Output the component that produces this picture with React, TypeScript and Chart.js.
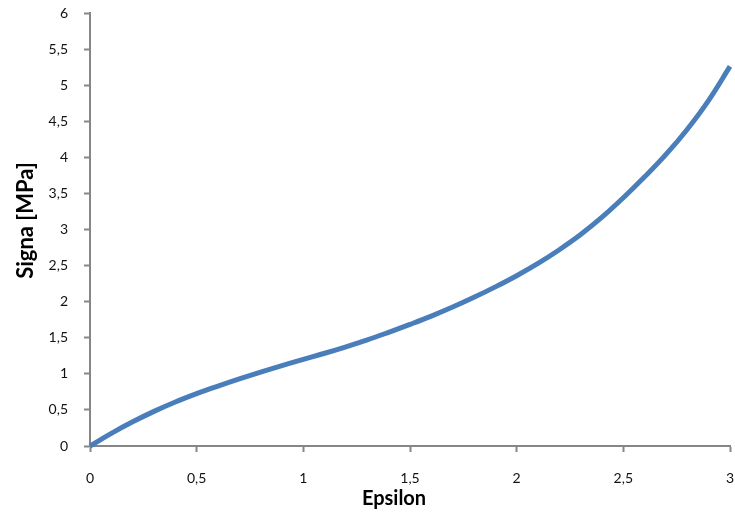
import React, { useEffect, useRef } from "react";
import { Chart, registerables } from "chart.js";

Chart.register(...registerables);

const epsilon = [0, 0.1, 0.2, 0.3, 0.4, 0.5, 0.6, 0.7, 0.8, 0.9, 1.0, 1.1, 1.2, 1.3, 1.4, 1.5, 1.6, 1.7, 1.8, 1.9, 2.0, 2.1, 2.2, 2.3, 2.4, 2.5, 2.6, 2.7, 2.8, 2.9, 3.0];
const sigma = [0, 0.175, 0.335, 0.48, 0.61, 0.725, 0.83, 0.93, 1.025, 1.115, 1.2, 1.285, 1.375, 1.47, 1.575, 1.685, 1.8, 1.925, 2.06, 2.205, 2.36, 2.53, 2.72, 2.93, 3.17, 3.44, 3.73, 4.04, 4.39, 4.79, 5.26];

const xTitle = "Epsilon";
const yTitle = "Signa [MPa]";

const fmt = (v: number) => String(v).replace(".", ",");

const titlesPlugin = {
  id: "axisTitles",
  afterDraw(chart: any) {
    const { ctx, chartArea } = chart;
    ctx.save();
    ctx.fillStyle = "#000";
    ctx.font = "bold 20px Lato";
    ctx.textAlign = "center";
    ctx.textBaseline = "middle";
    ctx.fillText(xTitle, (chartArea.left + chartArea.right) / 2 - 16, 499);
    ctx.translate(26, (chartArea.top + chartArea.bottom) / 2 - 9);
    ctx.rotate(-Math.PI / 2);
    ctx.font = "bold 22px Lato";
    ctx.fillText(yTitle, 0, 0);
    ctx.restore();
  },
};

const zeroPad = (s: any) => {
  s.paddingLeft = 0;
  s.paddingRight = 0;
  s.paddingTop = 0;
  s.paddingBottom = 0;
};

export default function App() {
  const ref = useRef<HTMLCanvasElement | null>(null);
  useEffect(() => {
    if (!ref.current) return;
    const axisColor = "#868686";
    const chart = new Chart(ref.current, {
      type: "line",
      data: {
        datasets: [
          {
            data: epsilon.map((x, i) => ({ x, y: sigma[i] })),
            borderColor: "#4a7ebb",
            borderWidth: 5,
            pointRadius: 0,
            tension: 0.4,
            clip: 6,
          },
        ],
      },
      options: {
        animation: false,
        responsive: false,
        maintainAspectRatio: false,
        layout: { padding: { top: 13, right: 5, left: 0, bottom: 0 } },
        plugins: { legend: { display: false }, tooltip: { enabled: false } },
        scales: {
          x: {
            type: "linear",
            min: 0,
            max: 3,
            afterFit: (s: any) => {
              s.height = 66;
              zeroPad(s);
            },
            ticks: {
              stepSize: 0.5,
              callback: (v: any) => fmt(v),
              font: { family: "Lato", size: 14 },
              color: "#111",
              padding: 18,
              maxRotation: 0,
            },
            grid: {
              drawOnChartArea: false,
              tickLength: 6,
              tickColor: axisColor,
              tickWidth: 2,
            },
            border: { color: axisColor, width: 2 },
          },
          y: {
            type: "linear",
            min: 0,
            max: 6,
            afterFit: (s: any) => {
              s.width = 90;
              zeroPad(s);
            },
            ticks: {
              stepSize: 0.5,
              callback: (v: any) => fmt(v),
              font: { family: "Lato", size: 14 },
              color: "#111",
              padding: 16,
            },
            grid: {
              drawOnChartArea: false,
              tickLength: 6,
              tickColor: axisColor,
              tickWidth: 2,
            },
            border: { color: axisColor, width: 2 },
          },
        },
      },
      plugins: [titlesPlugin],
    } as any);
    return () => chart.destroy();
  }, []);
  return (
    <div style={{ position: "fixed", left: 0, top: 0, width: 735, height: 512, background: "#fff" }}>
      <canvas ref={ref} width={735} height={512} style={{ width: 735, height: 512 }} />
    </div>
  );
}
